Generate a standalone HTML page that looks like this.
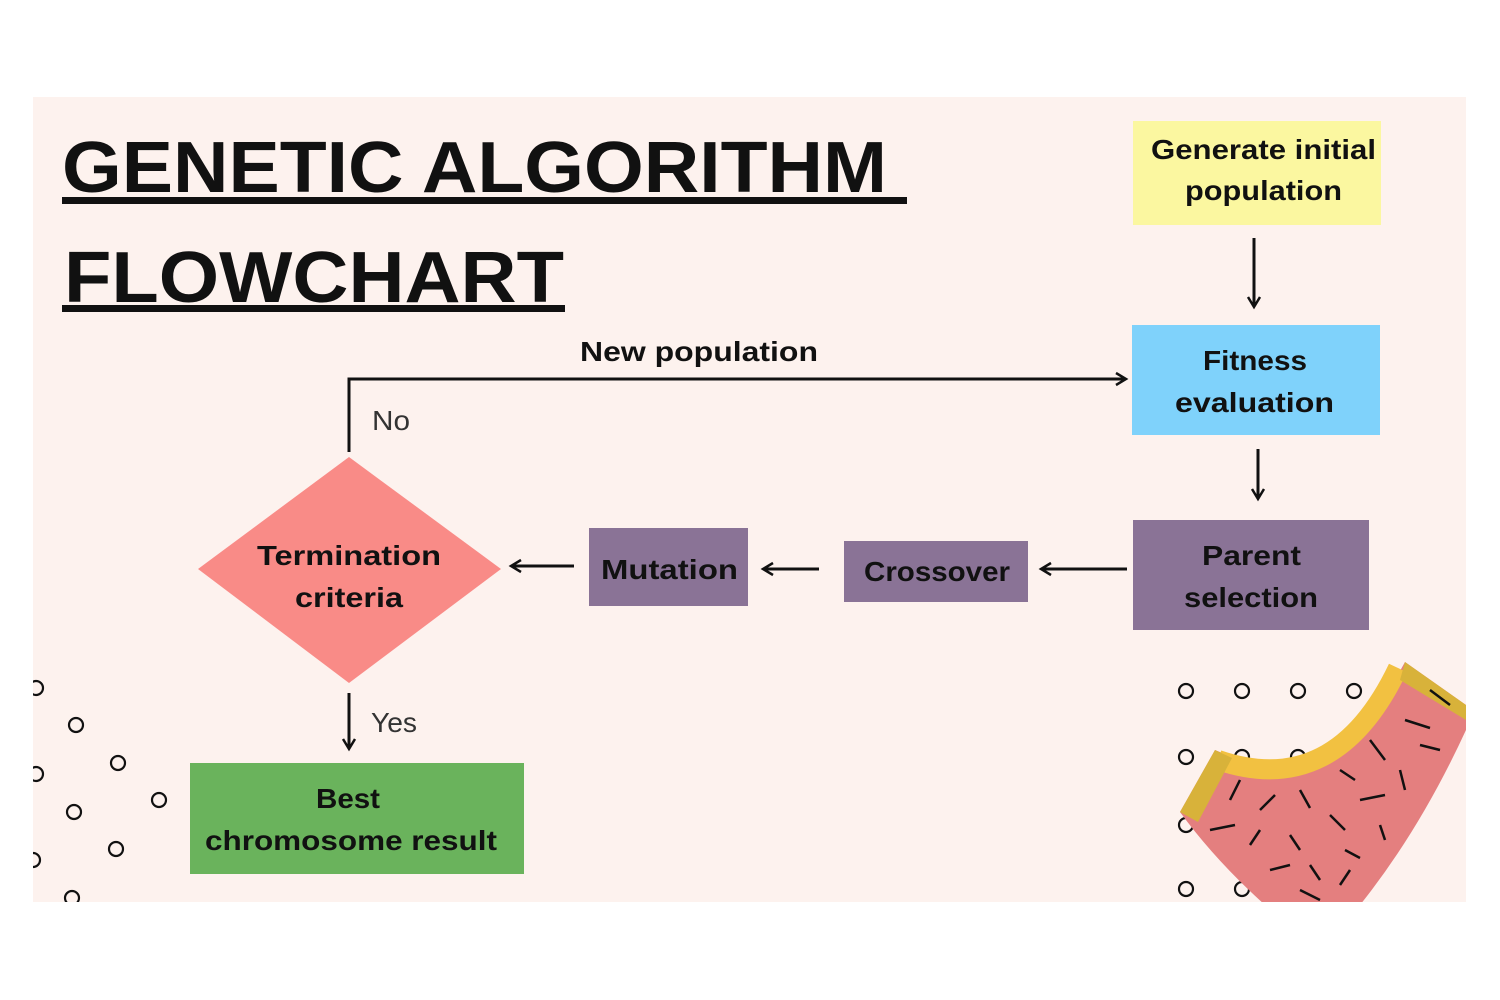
<!DOCTYPE html>
<html><head><meta charset="utf-8">
<style>
html,body{margin:0;padding:0;background:#fff;}
svg{display:block;}
text{font-family:"Liberation Sans",sans-serif;}
</style></head>
<body>
<svg width="1500" height="1000" viewBox="0 0 1500 1000">
<defs>
<marker id="ah" markerWidth="16" markerHeight="16" refX="12" refY="8" orient="auto" markerUnits="userSpaceOnUse">
<path d="M2,2 L12,8 L2,14" fill="none" stroke="#111" stroke-width="2.5"/>
</marker>
<clipPath id="panel"><rect x="33" y="97" width="1433" height="805"/></clipPath>
</defs>
<rect x="33" y="97" width="1433" height="805" fill="#fdf2ee"/>

<g>
<text x="62" y="192" font-size="72" font-weight="bold" fill="#111" textLength="825" lengthAdjust="spacingAndGlyphs">GENETIC ALGORITHM</text>
<rect x="62" y="197" width="845" height="7" fill="#111"/>
<text x="64" y="302" font-size="72" font-weight="bold" fill="#111" textLength="500" lengthAdjust="spacingAndGlyphs">FLOWCHART</text>
<rect x="62" y="305" width="503" height="7" fill="#111"/>
</g>

<g font-size="28" font-weight="bold" fill="#111">
<g>
<rect x="1133" y="121" width="248" height="104" fill="#fbf7a0"/>
<text x="1151" y="159" textLength="225" lengthAdjust="spacingAndGlyphs">Generate initial</text>
<text x="1185" y="200" textLength="157" lengthAdjust="spacingAndGlyphs">population</text>
</g>
<g>
<rect x="1132" y="325" width="248" height="110" fill="#7fd2fb"/>
<text x="1203" y="370" textLength="104" lengthAdjust="spacingAndGlyphs">Fitness</text>
<text x="1175" y="412" textLength="159" lengthAdjust="spacingAndGlyphs">evaluation</text>
</g>
<g>
<rect x="1133" y="520" width="236" height="110" fill="#8a7396"/>
<text x="1202" y="565" textLength="99" lengthAdjust="spacingAndGlyphs">Parent</text>
<text x="1184" y="607" textLength="134" lengthAdjust="spacingAndGlyphs">selection</text>
</g>
<g>
<rect x="844" y="541" width="184" height="61" fill="#8a7396"/>
<text x="864" y="581" textLength="146" lengthAdjust="spacingAndGlyphs">Crossover</text>
</g>
<g>
<rect x="589" y="528" width="159" height="78" fill="#8a7396"/>
<text x="601" y="579" textLength="137" lengthAdjust="spacingAndGlyphs">Mutation</text>
</g>
<g>
<polygon points="349,457 501,569 349,683 198,569" fill="#f98b87"/>
<text x="257" y="565" textLength="184" lengthAdjust="spacingAndGlyphs">Termination</text>
<text x="295" y="607" textLength="108" lengthAdjust="spacingAndGlyphs">criteria</text>
</g>
<g>
<rect x="190" y="763" width="334" height="111" fill="#6ab35c"/>
<text x="316" y="808" textLength="64" lengthAdjust="spacingAndGlyphs">Best</text>
<text x="205" y="850" textLength="292" lengthAdjust="spacingAndGlyphs">chromosome result</text>
</g>
<text x="580" y="361" textLength="238" lengthAdjust="spacingAndGlyphs">New population</text>
</g>

<g stroke="#111" stroke-width="3" fill="none">
<line x1="1254" y1="238" x2="1254" y2="307" marker-end="url(#ah)"/>
<line x1="1258" y1="449" x2="1258" y2="499" marker-end="url(#ah)"/>
<line x1="1127" y1="569" x2="1041" y2="569" marker-end="url(#ah)"/>
<line x1="819" y1="569" x2="763" y2="569" marker-end="url(#ah)"/>
<line x1="574" y1="566" x2="511" y2="566" marker-end="url(#ah)"/>
<line x1="349" y1="693" x2="349" y2="749" marker-end="url(#ah)"/>
<polyline points="349,452 349,379 1126,379" marker-end="url(#ah)"/>
</g>
<text x="372" y="430" font-size="28" fill="#333" textLength="38" lengthAdjust="spacingAndGlyphs">No</text>
<text x="371" y="732" font-size="28" fill="#333" textLength="46" lengthAdjust="spacingAndGlyphs">Yes</text>

<g clip-path="url(#panel)" fill="none" stroke="#111" stroke-width="2.2">
<circle cx="36" cy="688" r="7"/><circle cx="76" cy="725" r="7"/><circle cx="118" cy="763" r="7"/>
<circle cx="36" cy="774" r="7"/><circle cx="159" cy="800" r="7"/><circle cx="74" cy="812" r="7"/>
<circle cx="116" cy="849" r="7"/><circle cx="33" cy="860" r="7"/><circle cx="72" cy="898" r="7"/>
</g>
<g clip-path="url(#panel)">
<g fill="none" stroke="#111" stroke-width="2.2">
<circle cx="1186" cy="691" r="7"/><circle cx="1242" cy="691" r="7"/><circle cx="1298" cy="691" r="7"/><circle cx="1354" cy="691" r="7"/>
<circle cx="1186" cy="757" r="7"/><circle cx="1242" cy="757" r="7"/><circle cx="1298" cy="757" r="7"/>
<circle cx="1186" cy="825" r="7"/>
<circle cx="1186" cy="889" r="7"/><circle cx="1242" cy="889" r="7"/>
</g>
<path d="M1215,750 Q1330,800 1405,662 L1466,705 L1466,730 Q1420,830 1360,905 L1265,905 Q1215,860 1180,812 Z" fill="#e47f7f"/>
<path d="M1218,760 Q1335,800 1398,668" fill="none" stroke="#f2c141" stroke-width="20"/>
<path d="M1180,812 L1215,750 L1232,758 L1198,822 Z" fill="#d8b23a"/>
<path d="M1405,662 L1466,705 L1466,720 L1400,680 Z" fill="#d8b23a"/>
<g stroke="#111" stroke-width="2.5">
<line x1="1230" y1="800" x2="1240" y2="780"/><line x1="1260" y1="810" x2="1275" y2="795"/>
<line x1="1300" y1="790" x2="1310" y2="808"/><line x1="1340" y1="770" x2="1355" y2="780"/>
<line x1="1370" y1="740" x2="1385" y2="760"/><line x1="1405" y1="720" x2="1430" y2="728"/>
<line x1="1430" y1="690" x2="1450" y2="705"/><line x1="1210" y1="830" x2="1235" y2="825"/>
<line x1="1250" y1="845" x2="1260" y2="830"/><line x1="1290" y1="835" x2="1300" y2="850"/>
<line x1="1330" y1="815" x2="1345" y2="830"/><line x1="1360" y1="800" x2="1385" y2="795"/>
<line x1="1400" y1="770" x2="1405" y2="790"/><line x1="1420" y1="745" x2="1440" y2="750"/>
<line x1="1270" y1="870" x2="1290" y2="865"/><line x1="1310" y1="865" x2="1320" y2="880"/>
<line x1="1345" y1="850" x2="1360" y2="858"/><line x1="1380" y1="825" x2="1385" y2="840"/>
<line x1="1300" y1="890" x2="1320" y2="900"/><line x1="1340" y1="885" x2="1350" y2="870"/>
</g>
</g>
</svg>
</body></html>
